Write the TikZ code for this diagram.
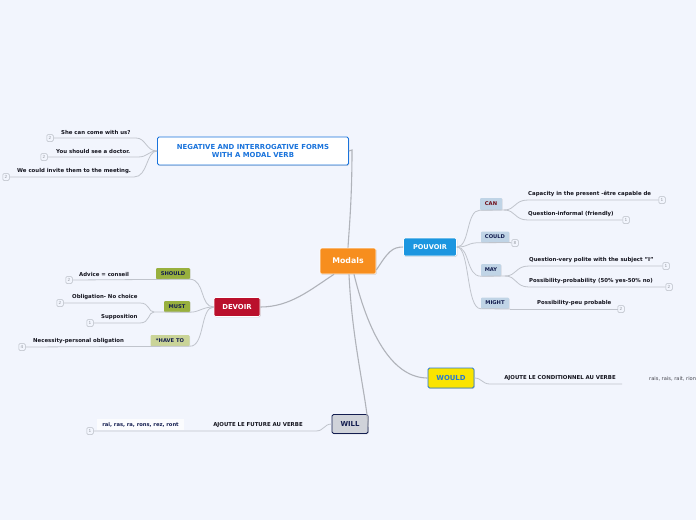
\documentclass[tikz,border=0pt]{standalone}
\usepackage{fontspec}
\setmainfont{DejaVu Sans}
\usetikzlibrary{shadows}
\definecolor{bgc}{RGB}{242,245,253}
\definecolor{orangec}{RGB}{247,142,30}
\definecolor{bluec}{RGB}{28,150,224}
\definecolor{redc}{RGB}{186,16,44}
\definecolor{yellowc}{RGB}{250,228,0}
\definecolor{wblue}{RGB}{40,120,210}
\definecolor{willfill}{RGB}{208,211,218}
\definecolor{navy}{RGB}{20,30,80}
\definecolor{negblue}{RGB}{25,115,220}
\definecolor{subblue}{RGB}{192,212,230}
\definecolor{canred}{RGB}{110,10,20}
\definecolor{greenc}{RGB}{152,176,62}
\definecolor{lgreen}{RGB}{202,212,152}
\definecolor{leaftext}{RGB}{20,20,30}
\definecolor{linec}{RGB}{192,196,204}
\definecolor{mainline}{RGB}{176,179,186}
\definecolor{badgec}{RGB}{185,189,197}
\definecolor{badgetext}{RGB}{150,154,162}
\begin{document}
\begin{tikzpicture}[x=1pt,y=-1pt,
  mainbox/.style={rectangle, rounded corners=1.5pt, inner sep=0pt, draw=white, line width=0.6pt,
    font=\fontsize{7}{8}\selectfont\bfseries, text=white,
    drop shadow={opacity=0.25, shadow xshift=0.8pt, shadow yshift=-0.8pt}},
  subbox/.style={rectangle, rounded corners=1pt, inner sep=0pt, fill=subblue,
    font=\fontsize{5.2}{6}\selectfont\bfseries, text=navy,
    drop shadow={opacity=0.2, shadow xshift=0.5pt, shadow yshift=-0.5pt}},
  grbox/.style={subbox, fill=greenc},
  leaf/.style={font=\fontsize{5.4}{6}\selectfont\bfseries, text=leaftext, inner sep=0pt},
  badge/.style={rectangle, rounded corners=1.2pt, draw=badgec, line width=0.5pt, fill=bgc,
    minimum width=6.5pt, minimum height=7pt, inner sep=0pt,
    font=\fontsize{4.2}{5}\selectfont, text=badgetext},
  conn/.style={draw=linec, line width=0.8pt},
  mconn/.style={draw=mainline, line width=1.1pt}
]
\fill[bgc] (0,0) rectangle (696,520);
\useasboundingbox (0,0) rectangle (696,520);

% ---------- main nodes ----------
\node[mainbox, fill=orangec, minimum width=56pt, minimum height=26pt, font=\fontsize{7.8}{9}\selectfont\bfseries] (modals) at (348,261) {Modals};
\node[mainbox, fill=bluec, minimum width=53pt, minimum height=18pt, font=\fontsize{6.6}{7}\selectfont\bfseries] (pou) at (430,247) {POUVOIR};
\node[mainbox, fill=white, draw=negblue, line width=0.8pt, text=negblue, minimum width=191pt, minimum height=28pt,
  align=center, font=\fontsize{6.9}{8.4}\selectfont\bfseries] (neg) at (253,151) {NEGATIVE AND INTERROGATIVE FORMS\\WITH A MODAL VERB};
\node[mainbox, fill=redc, minimum width=46pt, minimum height=19pt, font=\fontsize{6.9}{7}\selectfont\bfseries] (dev) at (237,307) {DEVOIR};
\node[mainbox, fill=yellowc, draw=wblue, line width=0.8pt, text=wblue, minimum width=46pt, minimum height=20pt, font=\fontsize{6.9}{7}\selectfont\bfseries] (would) at (451,378) {WOULD};
\node[mainbox, fill=willfill, draw=navy, line width=0.8pt, text=navy, minimum width=36pt, minimum height=19pt, font=\fontsize{6.9}{7}\selectfont\bfseries] (will) at (350,424) {WILL};

% ---------- main connectors ----------
\coordinate (negR) at (352,150);
\draw[mconn] (neg.east) -- (negR) .. controls (352,200) and (349,230) .. (modals.north);
\draw[mconn] ([yshift=-9pt]modals.east) .. controls (388,252) and (392,247) .. (pou.west);
\draw[mconn] ([xshift=-14pt]modals.south) .. controls (310,290) and (290,307) .. (dev.east);
\draw[mconn] ([xshift=6pt]modals.south) .. controls (370,340) and (395,378) .. (would.west);
\draw[mconn] ([xshift=1pt]modals.south) .. controls (352,340) and (365,390) .. ([yshift=-3pt]will.east);

% ---------- POUVOIR children ----------
\node[subbox, minimum width=22pt, minimum height=12pt, text=canred] (can) at (491,204) {CAN};
\node[subbox, minimum width=28pt, minimum height=11pt] (could) at (495,237) {COULD};
\node[subbox, minimum width=20pt, minimum height=12pt] (may) at (491,270) {MAY};
\node[subbox, minimum width=28pt, minimum height=11pt] (might) at (495,303) {MIGHT};

\coordinate (canB) at (504,210);
\coordinate (couldB) at (510,242.5);
\coordinate (mayB) at (505,276);
\coordinate (mightB) at (510,309);
\draw[conn] (pou.east) .. controls (470,247) and (466,210) .. (can.south west) -- (canB);
\draw[conn] (pou.east) .. controls (470,247) and (466,242.5) .. (could.south west) -- (couldB);
\draw[conn] (pou.east) .. controls (470,247) and (466,276) .. (may.south west) -- (mayB);
\draw[conn] (pou.east) .. controls (470,247) and (466,309) .. (might.south west) -- (mightB);

\node[badge] (bc1) at (662,200) {1};
\node[badge] (bc2) at (626,220) {1};
\node[badge] (bco) at (515,243) {8};
\node[badge] (bm1) at (666,266) {1};
\node[badge] (bm2) at (669,287) {2};
\node[badge] (bmi) at (621,309) {2};

\node[leaf, anchor=south west] (lc1) at (528,197) {Capacity in the present -être capable de};
\node[leaf, anchor=south west] (lc2) at (528,217) {Question-informal (friendly)};
\node[leaf, anchor=south west] (lm1) at (529,263) {Question-very polite with the subject "I"};
\node[leaf, anchor=south west] (lm2) at (529,284) {Possibility-probability (50\% yes-50\% no)};
\node[leaf, anchor=south west] (lmi) at (537,306) {Possibility-peu probable};

\draw[conn] (canB) .. controls (516,210) and (514,200) .. (528,200) -- (bc1.west);
\draw[conn] (canB) .. controls (516,210) and (514,220) .. (528,220) -- (bc2.west);
\draw[conn] (couldB) -- (bco.west);
\draw[conn] (mayB) .. controls (517,276) and (515,266) .. (529,266) -- (bm1.west);
\draw[conn] (mayB) .. controls (517,276) and (515,287) .. (529,287) -- (bm2.west);
\draw[conn] (mightB) -- (bmi.west);

% ---------- NEGATIVE children ----------
\node[badge] (bn1) at (50,138) {2};
\node[badge] (bn2) at (44,157) {2};
\node[badge] (bn3) at (6,177) {2};
\node[leaf, anchor=south west] (ln1) at (61,134.5) {She can come with us?};
\node[leaf, anchor=south west] (ln2) at (56,154) {You should see a doctor.};
\node[leaf, anchor=south west] (ln3) at (17,174) {We could invite them to the meeting.};
\draw[conn] (bn1.east) -- (136,138) .. controls (146,138) and (146,151) .. (neg.west);
\draw[conn] (bn2.east) -- (138,157) .. controls (148,157) and (148,151) .. (neg.west);
\draw[conn] (bn3.east) -- (134,177) .. controls (148,177) and (146,151) .. (neg.west);

% ---------- DEVOIR children ----------
\node[grbox, minimum width=34pt, minimum height=11pt] (should) at (173,273.5) {SHOULD};
\node[grbox, minimum width=26pt, minimum height=11pt] (must) at (177,306.5) {MUST};
\node[grbox, fill=lgreen, minimum width=39pt, minimum height=11pt] (have) at (170,340.5) {*HAVE TO};

\coordinate (mustL) at (154,312);
\draw[conn] (dev.west) .. controls (200,307) and (205,280) .. (should.south east);
\draw[conn] (dev.west) .. controls (202,307) and (200,312) .. (must.south east) -- (mustL);
\draw[conn] (dev.west) .. controls (200,307) and (205,347) .. (have.south east);

\node[badge] (bd1) at (69,280) {2};
\node[badge] (bd2) at (60,303) {2};
\node[badge] (bd3) at (90,323) {1};
\node[badge] (bd4) at (22,347) {4};
\node[leaf, anchor=south west] (ld1) at (79,276.5) {Advice = conseil};
\node[leaf, anchor=south west] (ld2) at (72,299.5) {Obligation- No choice};
\node[leaf, anchor=south west] (ld3) at (101,319.5) {Supposition};
\node[leaf, anchor=south west] (ld4) at (33,343.5) {Necessity-personal obligation};

\draw[conn] (bd1.east) -- (should.south east);
\draw[conn] (bd2.east) -- (140,303) .. controls (150,303) and (148,312) .. (mustL);
\draw[conn] (bd3.east) -- (140,323) .. controls (150,323) and (148,312) .. (mustL);
\draw[conn] (bd4.east) -- (have.south east);

% ---------- WILL children ----------
\node[badge] (bw) at (90,431) {1};
\node[rectangle, fill=white!70!bgc, inner sep=0pt, minimum width=87pt, minimum height=11pt,
  font=\fontsize{5.2}{6}\selectfont\bfseries, text=navy] (rai) at (140.5,424.5) {rai, ras, ra, rons, rez, ront};
\node[leaf, anchor=south] (lw) at (258,428) {AJOUTE LE FUTURE AU VERBE};
\coordinate (willL) at (316,431);
\draw[conn] (bw.east) -- (willL) .. controls (324,431) and (324,424) .. (will.west);

% ---------- WOULD children ----------
\node[leaf, anchor=south] (lwo) at (560,381) {AJOUTE LE CONDITIONNEL AU VERBE};
\node[font=\fontsize{5.1}{6}\selectfont, text=leaftext!80, inner sep=0pt, anchor=south west] (rais) at (649,381) {rais, rais, rait, rions, riez, raient};
\coordinate (wouldA) at (490,384);
\coordinate (wouldB) at (622,384);
\draw[conn] (would.east) .. controls (482,378) and (482,384) .. (wouldA) -- (wouldB);
\end{tikzpicture}
\end{document}
